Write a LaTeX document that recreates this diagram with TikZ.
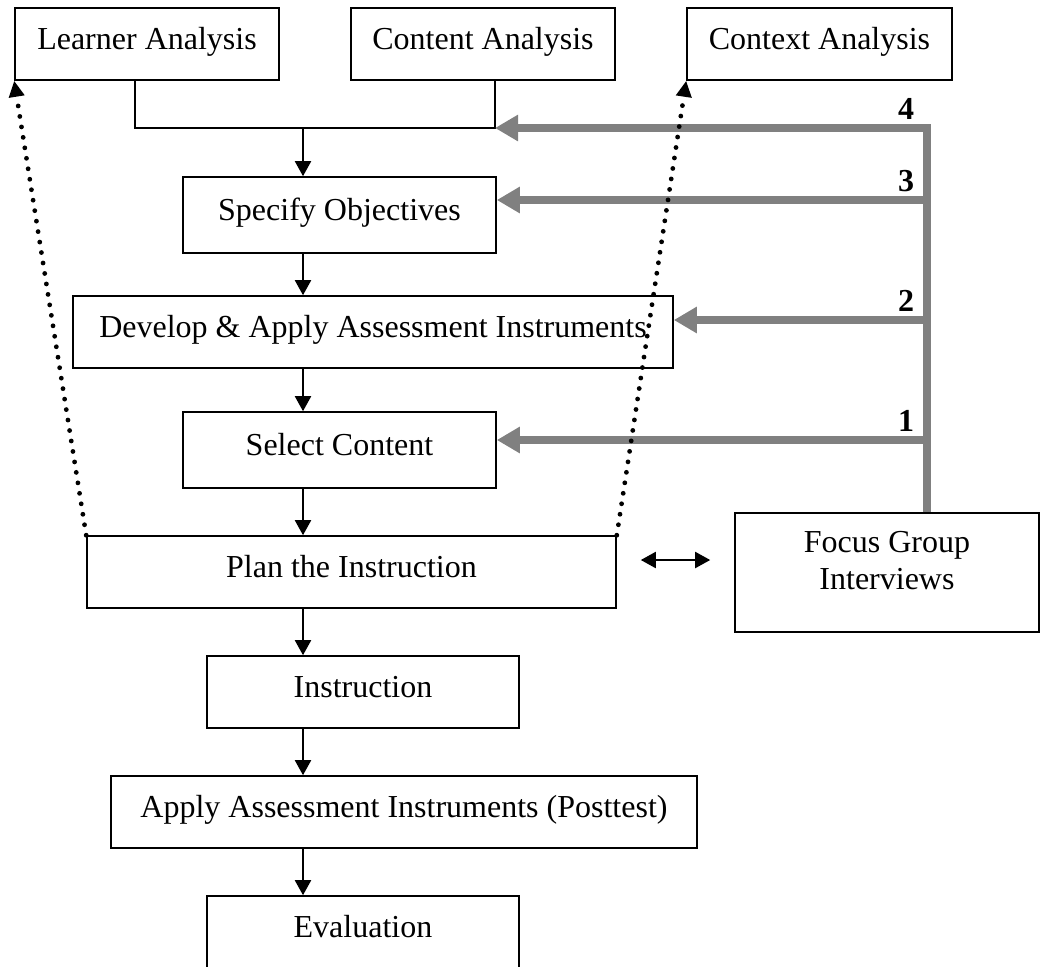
\documentclass[tikz,border=0pt]{standalone}
\usepackage{fontspec}
\setmainfont{Liberation Serif}
\usetikzlibrary{arrows.meta}
\definecolor{fbgray}{HTML}{808080}
% text set on a zero-height box so every label sits at the same place in its box
\newcommand{\boxtext}[1]{\raisebox{-2.75pt}[0pt][0pt]{#1}}
\begin{document}
\begin{tikzpicture}[x=0.5pt,y=-0.5pt,
  box/.style={draw, line width=0.8pt, inner sep=0pt, font=\fontsize{16}{18.5}\selectfont},
  flow/.style={line width=1pt, -{Triangle[length=7.5pt,width=8pt]}},
  link/.style={line width=1pt},
  feed/.style={draw=fbgray, line width=3.6pt, -{Triangle[length=11.5pt,width=12.5pt]}},
  hint/.style={line width=2.4pt, dash pattern=on 0pt off 5.3pt, line cap=round,
               -{Triangle[length=8pt,width=7.5pt]}},
  both/.style={line width=1pt, {Triangle[length=7.5pt,width=8pt]}-{Triangle[length=7.5pt,width=8pt]},
               shorten <=12pt, shorten >=12pt},
  num/.style={inner sep=0pt, font=\fontsize{16}{18.5}\selectfont\bfseries}
]
\useasboundingbox (0,0) rectangle (1040,966);
\clip (0,0) rectangle (1040,966);

% analysis boxes
\node[box, minimum width=132pt, minimum height=36pt] (learner) at (147,44) {\boxtext{Learner Analysis}};
\node[box, minimum width=132pt, minimum height=36pt] (content) at (483,44) {\boxtext{Content Analysis}};
\node[box, minimum width=132.5pt, minimum height=36pt] (context) at (819.5,44) {\boxtext{Context Analysis}};

% main sequence
\node[box, minimum width=156.5pt, minimum height=38pt] (specify) at (339.5,215) {\boxtext{Specify Objectives}};
\node[box, minimum width=300pt, minimum height=36pt] (develop) at (373,332) {\boxtext{Develop \& Apply Assessment Instruments}};
\node[box, minimum width=156.5pt, minimum height=38pt] (select) at (339.5,450) {\boxtext{Select Content}};
\node[box, minimum width=264.5pt, minimum height=36pt] (plan) at (351.5,572) {\boxtext{Plan the Instruction}};
\node[box, minimum width=156pt, minimum height=36pt] (instr) at (363,692) {\boxtext{Instruction}};
\node[box, minimum width=293pt, minimum height=36pt] (apply) at (404,812) {\boxtext{Apply Assessment Instruments (Posttest)}};
\node[box, minimum width=156pt, minimum height=36pt] (eval) at (363,932) {\boxtext{Evaluation}};

% focus groups
\node[box, minimum width=152pt, minimum height=59.5pt] (focus) at (887,572.5)
  {\raisebox{-8.25pt}[0pt][0pt]{\begin{tabular}[b]{@{}c@{}}Focus Group\\Interviews\end{tabular}}};

% routing points
\coordinate (col) at (303,128);
\coordinate (lx) at (135,128);
\coordinate (jn) at (495,128);
\coordinate (g4) at (927,128);
\coordinate (g3) at (927,200);
\coordinate (g2) at (927,320);
\coordinate (g1) at (927,440);
\coordinate (dy) at (0,560);

% joining the analyses
\draw[link] (learner.south -| lx) -- (lx) -- (jn) -- (content.south -| jn);
\draw[flow] (col) -- (specify.north -| col);

% sequence arrows
\draw[flow] (specify.south -| col) -- (develop.north -| col);
\draw[flow] (develop.south -| col) -- (select.north -| col);
\draw[flow] (select.south -| col) -- (plan.north -| col);
\draw[flow] (plan.south -| col) -- (instr.north -| col);
\draw[flow] (instr.south -| col) -- (apply.north -| col);
\draw[flow] (apply.south -| col) -- (eval.north -| col);

% feedback from the focus groups
\draw[feed] (focus.north -| g4) -- (g4) -- (jn);
\draw[feed] (g3) -- (specify.east |- g3);
\draw[feed] (g2) -- (develop.east |- g2);
\draw[feed] (g1) -- (select.east |- g1);
\node[num] (n4) at (906,109) {4};
\node[num] (n3) at (906,181) {3};
\node[num] (n2) at (906,301) {2};
\node[num] (n1) at (906,421) {1};

% dotted returns to the analyses
\draw[hint] (plan.north west) -- (learner.south west);
\draw[hint] (plan.north east) -- (context.south west);

% planning <-> focus groups
\draw[both] (plan.east |- dy) -- (focus.west |- dy);
\end{tikzpicture}
\end{document}
